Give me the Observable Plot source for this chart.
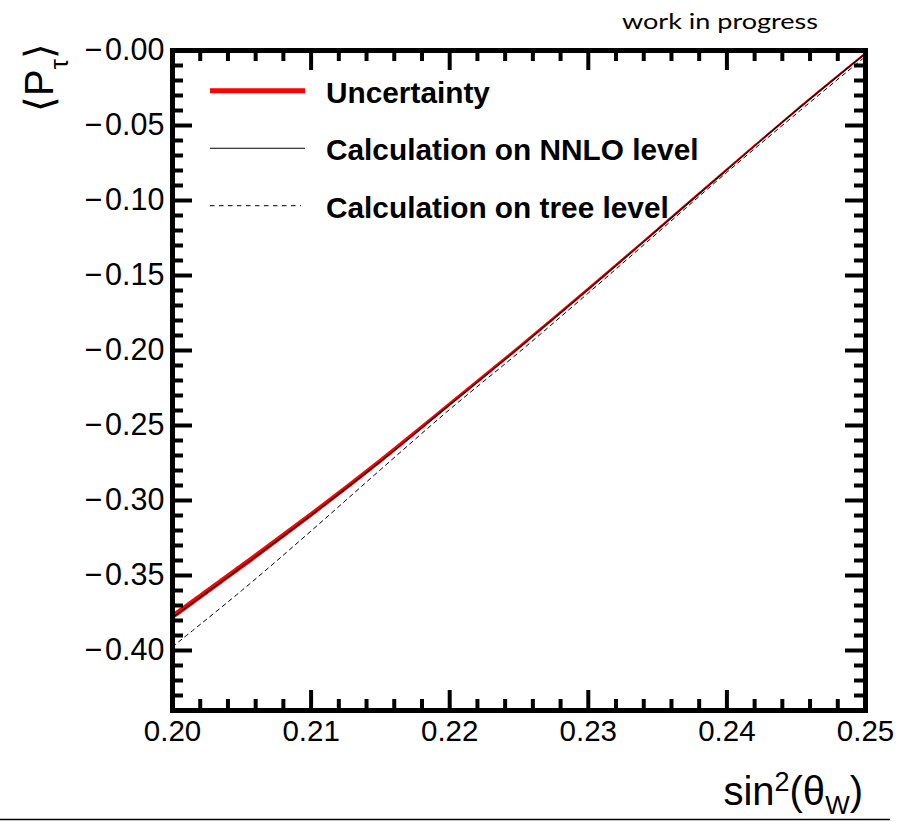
<!DOCTYPE html>
<html><head><meta charset="utf-8">
<script src="https://cdn.jsdelivr.net/npm/d3@7"></script>
<script src="https://cdn.jsdelivr.net/npm/@observablehq/plot@0.6"></script>
<style>body{margin:0;background:#fff;} #chart{width:906px;height:821px;}</style>
</head><body><div id="chart"></div>
<script>
// ---- data ----
const sinTheta = [0.200, 0.205, 0.210, 0.215, 0.220, 0.225, 0.230, 0.235, 0.240, 0.245, 0.250];
const nnloLevel = [-0.3780, -0.3442, -0.3098, -0.2740, -0.2362, -0.1983, -0.1593, -0.1195, -0.0795, -0.0400, -0.0020];
const treeLevel = [-0.3975, -0.3600, -0.3203, -0.2795, -0.2393, -0.2012, -0.1617, -0.1215, -0.0812, -0.0422, -0.0040];
const uncertaintyHalfWidth = [0.0021, 0.0020, 0.0018, 0.0016, 0.0013, 0.0011, 0.0009, 0.0007, 0.0005, 0.0004, 0.0003];

const xMajorTicks = [0.20, 0.21, 0.22, 0.23, 0.24, 0.25];
const xMinorTicks = [0.202,0.204,0.206,0.208,0.212,0.214,0.216,0.218,0.222,0.224,0.226,0.228,0.232,0.234,0.236,0.238,0.242,0.244,0.246,0.248];
const yMajorTicks = [-0.40, -0.35, -0.30, -0.25, -0.20, -0.15, -0.10, -0.05, 0.00];
const yMinorTicks = [-0.44,-0.43,-0.42,-0.41,-0.39,-0.38,-0.37,-0.36,-0.34,-0.33,-0.32,-0.31,-0.29,-0.28,-0.27,-0.26,-0.24,-0.23,-0.22,-0.21,-0.19,-0.18,-0.17,-0.16,-0.14,-0.13,-0.12,-0.11,-0.09,-0.08,-0.07,-0.06,-0.04,-0.03,-0.02,-0.01];
const legendLabels = ["Uncertainty", "Calculation on NNLO level", "Calculation on tree level"];
const cornerLabel = "work in progress";

const rows = sinTheta.map((s, i) => ({
  s, nnlo: nnloLevel[i], tree: treeLevel[i],
  lo: nnloLevel[i] - uncertaintyHalfWidth[i], hi: nnloLevel[i] + uncertaintyHalfWidth[i]
}));

const W = 906, H = 821, mL = 172, mR = 41, mT = 50, mB = 111;
const iw = W - mL - mR, ih = H - mT - mB;
const majorLen = 20, minorLen = 11;
const tk = {stroke: "black", strokeWidth: 4};
const FONT = "'Liberation Sans', Arial, Helvetica, sans-serif";

const plot = Plot.plot({
  width: W, height: H,
  marginLeft: mL, marginRight: mR, marginTop: mT, marginBottom: mB,
  style: {background: "white", fontFamily: FONT, color: "black"},
  x: {domain: [0.2, 0.25]},
  y: {domain: [-0.44, 0]},
  marks: [
    Plot.areaY(rows, {x: "s", y1: "lo", y2: "hi", fill: "red", curve: "catmull-rom"}),
    Plot.line(rows, {x: "s", y: "nnlo", stroke: "red", strokeWidth: 1.8, curve: "catmull-rom"}),
    Plot.line(rows, {x: "s", y: "nnlo", stroke: "black", strokeWidth: 1.1, curve: "catmull-rom"}),
    Plot.line(rows, {x: "s", y: "tree", stroke: "black", strokeWidth: 1, strokeDasharray: "4,4", curve: "catmull-rom"}),
    // inward ticks on all four sides (ROOT style)
    Plot.tickX(xMinorTicks, {x: d => d, insetTop: ih - minorLen, ...tk}),
    Plot.tickX(xMajorTicks, {x: d => d, insetTop: ih - majorLen, ...tk}),
    Plot.tickX(xMinorTicks, {x: d => d, insetBottom: ih - minorLen, ...tk}),
    Plot.tickX(xMajorTicks, {x: d => d, insetBottom: ih - majorLen, ...tk}),
    Plot.tickY(yMinorTicks, {y: d => d, insetRight: iw - minorLen, ...tk}),
    Plot.tickY(yMajorTicks, {y: d => d, insetRight: iw - majorLen, ...tk}),
    Plot.tickY(yMinorTicks, {y: d => d, insetLeft: iw - minorLen, ...tk}),
    Plot.tickY(yMajorTicks, {y: d => d, insetLeft: iw - majorLen, ...tk}),
    Plot.axisX({ticks: xMajorTicks, tickSize: 0, tickPadding: 10, fontSize: 29.5, tickFormat: d => d.toFixed(2), label: null}),
    Plot.axisY({ticks: yMajorTicks, tickSize: 0, tickPadding: 8, fontSize: 30.5, tickFormat: d => "\u2212\u200A" + Math.abs(d).toFixed(2), label: null}),
    Plot.frame({stroke: "black", strokeWidth: 5})
  ]
});
document.getElementById("chart").appendChild(plot);

const svg = d3.select(plot);

// legend
const lg = svg.append("g").attr("text-anchor", "start");
const legendY = [90.8, 148.3, 205.7];
const legendStyles = [
  {stroke: "red", width: 5, dash: null, x2: 305},
  {stroke: "black", width: 1.1, dash: null, x2: 305},
  {stroke: "black", width: 1, dash: "4.5,4.5", x2: 301}
];
legendLabels.forEach((lab, i) => {
  const st = legendStyles[i];
  lg.append("line").attr("x1", 210).attr("x2", st.x2).attr("y1", legendY[i]).attr("y2", legendY[i])
    .attr("stroke", st.stroke).attr("stroke-width", st.width).attr("stroke-dasharray", st.dash);
  lg.append("text").attr("x", 326).attr("y", legendY[i] + 12).attr("text-anchor", "start")
    .attr("font-family", FONT).attr("font-weight", "bold").attr("font-size", 29.8).attr("fill", "black").text(lab);
});

// corner label
svg.append("text").attr("x", 622).attr("y", 29).attr("text-anchor", "start")
  .attr("font-family", "Lato, 'Open Sans', sans-serif")
  .attr("font-size", 21).attr("textLength", 196).attr("lengthAdjust", "spacingAndGlyphs").attr("fill", "black").text(cornerLabel);

// y title  <P_tau>
const yt = svg.append("text").attr("transform", "translate(53,43) rotate(-90)")
  .attr("text-anchor", "end").attr("font-family", FONT).attr("font-size", 40).attr("fill", "black");
yt.append("tspan").text("\u27E8P");
yt.append("tspan").attr("font-size", 26).attr("dy", 15).text("\u03C4");
yt.append("tspan").attr("dy", -15).text("\u27E9");

// x title  sin^2(theta_W)
const xt = svg.append("text").attr("x", 863).attr("y", 805).attr("text-anchor", "end")
  .attr("font-family", FONT).attr("font-size", 40).attr("fill", "black");
xt.append("tspan").text("sin");
xt.append("tspan").attr("font-size", 27).attr("dy", -14).text("2");
xt.append("tspan").attr("dy", 14).text("(\u03B8");
xt.append("tspan").attr("font-size", 26).attr("dy", 9).text("W");
xt.append("tspan").attr("dy", -9).text(")");

// bottom edge line
svg.append("line").attr("x1", 0).attr("x2", 890).attr("y1", 819.5).attr("y2", 819.5)
  .attr("stroke", "black").attr("stroke-width", 1.3);
</script>
</body></html>
